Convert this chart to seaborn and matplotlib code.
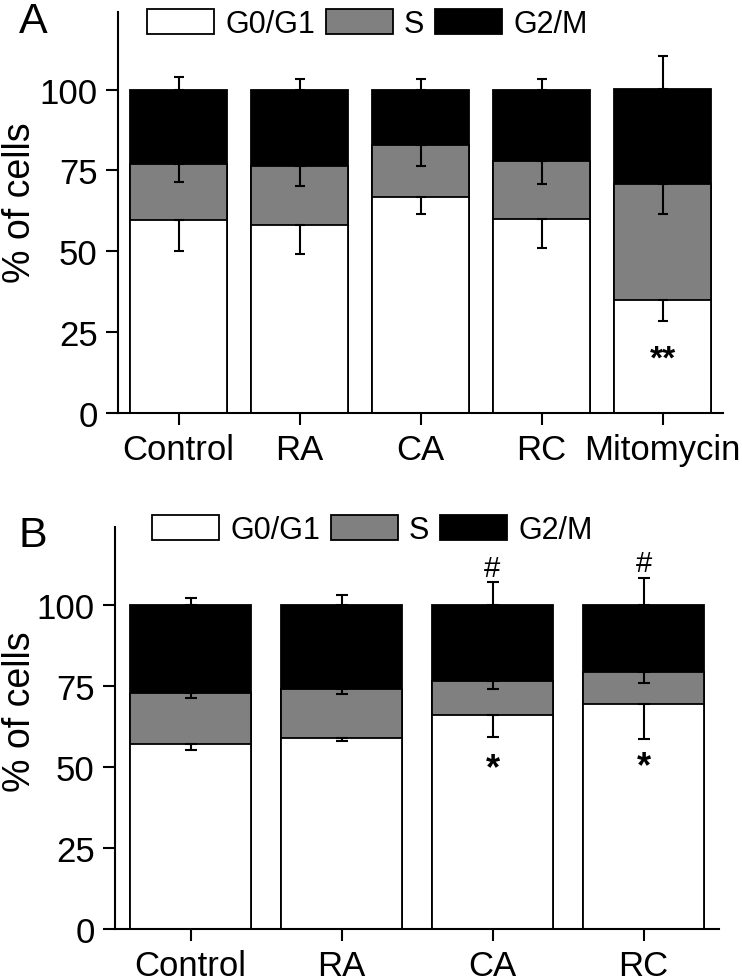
import matplotlib
matplotlib.use("Agg")
import matplotlib.pyplot as plt
import seaborn as sns
import numpy as np
import pandas as pd
from matplotlib.patches import Patch

# ---------------- data ----------------
cats_a = ["Control", "RA", "CA", "RC", "Mitomycin"]
g0_a = [59.7, 58.1, 66.8, 59.9, 34.8]
s_a = [17.3, 18.2, 16.0, 18.0, 35.9]
g2m_a = [23.0, 23.7, 17.2, 22.1, 29.5]
err_g0_a = [9.5, 8.8, 5.4, 9.0, 6.5]
err_s_a = [5.6, 6.1, 6.3, 7.1, 9.2]
err_g2m_a = [3.9, 3.3, 3.3, 3.4, 10.1]

cats_b = ["Control", "RA", "CA", "RC"]
g0_b = [57.1, 58.9, 66.0, 69.5]
s_b = [15.6, 15.1, 10.5, 9.7]
g2m_b = [27.3, 26.0, 23.5, 20.8]
err_g0_b = [1.8, 1.0, 6.8, 10.8]
err_s_b = [1.4, 1.6, 2.6, 3.3]
err_g2m_b = [2.2, 2.9, 7.0, 8.2]

phases = ["G0/G1", "S", "G2/M"]
colors = {"G0/G1": "white", "S": "#808080", "G2/M": "black"}

yticks = [0, 25, 50, 75, 100]

# ---------------- style ----------------
sns.set_style("ticks")
plt.rcParams["font.family"] = ["Liberation Sans", "DejaVu Sans"]
plt.rcParams["axes.linewidth"] = 1.5
plt.rcParams["text.color"] = "black"
plt.rcParams["axes.labelcolor"] = "black"
plt.rcParams["xtick.color"] = "black"
plt.rcParams["ytick.color"] = "black"
plt.rcParams["axes.edgecolor"] = "black"

W, H = 742, 979
fig = plt.figure(figsize=(W / 100, H / 100), dpi=100)


def px_axes(left, right, top, bottom):
    return fig.add_axes([left / W, 1 - bottom / H, (right - left) / W, (bottom - top) / H])


def draw_panel(ax, cats, g0, s, g2m, eg0, es, eg2m, capsize):
    g0 = np.array(g0)
    s = np.array(s)
    g2m = np.array(g2m)
    df = pd.DataFrame({
        "cat": cats,
        "g0": g0,
        "g0s": g0 + s,
        "tot": g0 + s + g2m,
    })
    kw = dict(x="cat", order=cats, width=0.8, edgecolor="black", linewidth=1.3,
              errorbar=None, ax=ax, saturation=1)
    sns.barplot(data=df, y="tot", color=colors["G2/M"], **kw)
    sns.barplot(data=df, y="g0s", color=colors["S"], **kw)
    sns.barplot(data=df, y="g0", color=colors["G0/G1"], **kw)
    xs = np.arange(len(cats))
    ekw = dict(fmt="none", ecolor="black", elinewidth=1.5, capsize=capsize,
               capthick=1.5, zorder=5)
    ax.errorbar(xs, df["g0"], yerr=[eg0, np.zeros(len(cats))], **ekw)
    ax.errorbar(xs, df["g0s"], yerr=[es, np.zeros(len(cats))], **ekw)
    ax.errorbar(xs, df["tot"], yerr=[np.zeros(len(cats)), eg2m], **ekw)

    ax.set_ylim(0, 124)
    ax.set_xlim(-0.5, len(cats) - 0.5)
    ax.set_yticks(yticks)
    ax.set_yticklabels([str(t) for t in yticks])
    ax.set_xlabel("")
    sns.despine(ax=ax)
    ax.tick_params(axis="both", direction="out", length=8.6, width=1.5,
                   labelsize=25, colors="black")
    ax.tick_params(axis="y", pad=6)
    ax.tick_params(axis="x", pad=6)
    ax.set_ylabel("% of cells", fontsize=27, color="black")
    ax.yaxis.label.set_verticalalignment("center")
    ax.yaxis.label.set_horizontalalignment("center")


def add_legend(ax, x_px, y_px):
    handles = [Patch(facecolor=colors[p], edgecolor="black", linewidth=1.3, label=p)
               for p in phases]
    ax.legend(handles=handles, loc="center left", bbox_to_anchor=(x_px / W, 1 - y_px / H),
              bbox_transform=fig.transFigure, ncol=3, frameon=False, fontsize=22,
              handlelength=2.2, handleheight=0.88, handletextpad=0.36,
              columnspacing=0.35, borderpad=0, borderaxespad=0, labelcolor="black")


# ---------------- panel A ----------------
axA = px_axes(118, 723, 13, 414)
draw_panel(axA, cats_a, g0_a, s_a, g2m_a, err_g0_a, err_s_a, err_g2m_a, capsize=3.3)
axA.yaxis.set_label_coords(-0.162, 0.526)
add_legend(axA, 147, 25)
axA.text(4, 14, "**", ha="center", va="baseline", fontsize=24, fontweight="bold",
         color="black")
fig.text(19 / W, 1 - 33 / H, "A", fontsize=31, ha="left", va="baseline", color="black")

# ---------------- panel B ----------------
axB = px_axes(115, 719, 528, 930)
draw_panel(axB, cats_b, g0_b, s_b, g2m_b, err_g0_b, err_s_b, err_g2m_b, capsize=4.3)
axB.yaxis.set_label_coords(-0.157, 0.542)
add_legend(axB, 152, 531)
for xi, yh, ys in [(2, 109.0, 46.6), (3, 110.5, 47.0)]:
    axB.text(xi, yh, "#", ha="center", va="baseline", fontsize=21, color="black")
    axB.text(xi, ys, "*", ha="center", va="baseline", fontsize=26, fontweight="bold",
             color="black")
fig.text(19 / W, 1 - 547 / H, "B", fontsize=31, ha="left", va="baseline", color="black")

fig.savefig("out.png", dpi=100)
